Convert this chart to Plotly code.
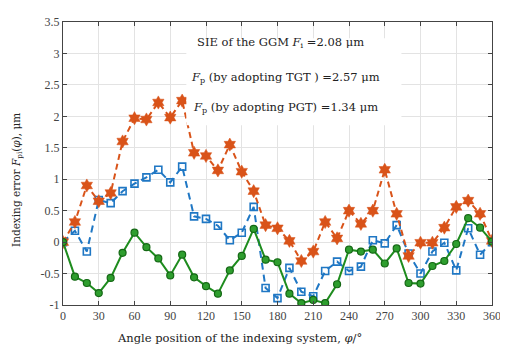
import plotly.graph_objects as go

angles = list(range(0, 361, 10))

tgt_error = [0, 0.32, 0.90, 0.65, 0.78, 1.60, 1.97, 1.95, 2.22, 1.98, 2.25, 1.42, 1.37,
             1.14, 1.55, 1.12, 0.81, 0.27, 0.22, 0.02, -0.30, -0.15, 0.32, 0.06, 0.50,
             0.29, 0.50, 1.15, 0.45, -0.22, -0.01, -0.01, 0.23, 0.56, 0.66, 0.45, 0.02]

ggm_error = [0, 0.18, -0.15, 0.67, 0.62, 0.81, 0.93, 1.03, 1.15, 0.95, 1.20, 0.41, 0.37,
             0.26, 0.03, 0.15, 0.56, -0.73, -0.89, -0.41, -0.79, -0.86, -0.46, -0.31, -0.46,
             -0.39, 0.03, -0.02, 0.27, -0.18, -0.50, -0.15, -0.01, -0.45, 0.22, -0.20, 0]

pgt_error = [0, -0.55, -0.65, -0.81, -0.57, -0.17, 0.15, -0.08, -0.26, -0.53, -0.20, -0.56,
             -0.70, -0.82, -0.45, -0.22, 0.21, -0.28, -0.32, -0.82, -0.97, -0.92, -0.97,
             -0.67, -0.12, -0.15, -0.12, -0.34, -0.10, -0.65, -0.66, -0.38, -0.30, -0.03,
             0.38, 0.23, 0.01]

x_ticks = list(range(0, 361, 30))
y_ticks = [-1, -0.5, 0, 0.5, 1, 1.5, 2, 2.5, 3, 3.5]
y_tick_labels = ["-1", "-0.5", "0", "0.5", "1", "1.5", "2", "2.5", "3", "3.5"]

notes = ["SIE of the GGM <i>F</i><sub>i</sub> =2.08 μm",
         "<i>F</i><sub>p</sub> (by adopting TGT ) =2.57 μm",
         "<i>F</i><sub>p</sub> (by adopting PGT) =1.34 μm"]
note_x = [111, 106, 107]
note_y = [3.18, 2.62, 2.14]

ORANGE = "#D95319"
BLUE = "#1F77C4"
GREEN = "#1E8C1E"
FONT = "Liberation Serif"
TFONT = "DejaVu Serif"

fig = go.Figure()
fig.add_trace(go.Scatter(
    x=angles, y=ggm_error, mode="lines+markers",
    line=dict(color=BLUE, width=2, dash="7px,5px"),
    marker=dict(symbol="square-open", size=7, color=BLUE, line=dict(width=1.6, color=BLUE)),
))
fig.add_trace(go.Scatter(
    x=angles, y=tgt_error, mode="lines+markers",
    line=dict(color=ORANGE, width=2, dash="6px,4px"),
    marker=dict(symbol="hexagram", size=10, color=ORANGE, line=dict(width=0.5, color=ORANGE)),
))
fig.add_trace(go.Scatter(
    x=angles, y=pgt_error, mode="lines+markers",
    line=dict(color=GREEN, width=2),
    marker=dict(symbol="circle", size=7, color="#2E9E2E", line=dict(width=1.2, color="#146814")),
))

# white text box of the in-plot note
fig.add_shape(type="rect", xref="x", yref="y", x0=103.5, x1=284, y0=1.86, y1=3.24,
              fillcolor="white", line=dict(width=0), layer="above")

for txt, xx, yy in zip(notes, note_x, note_y):
    fig.add_annotation(x=xx, y=yy, xref="x", yref="y", text=txt, showarrow=False,
                       xanchor="left", yanchor="middle",
                       font=dict(family=TFONT, size=11.5, color="#222"))

fig.add_annotation(x=0.412, y=-0.085, xref="paper", yref="paper",
                   text="Angle position of the indexing system, <i>φ</i>/°",
                   showarrow=False, xanchor="center", yanchor="top",
                   font=dict(family=TFONT, size=11.5, color="#222"))
fig.add_annotation(x=-0.106, y=0.44, xref="paper", yref="paper",
                   text="Indexing error <i>F</i><sub>pi</sub>(<i>φ</i>), μm",
                   showarrow=False, textangle=-90, xanchor="center", yanchor="middle",
                   font=dict(family=TFONT, size=10.5, color="#222"))

axis_common = dict(showgrid=True, gridcolor="#E3E3E3", gridwidth=1,
                   showline=True, linecolor="#444", linewidth=1, mirror="ticks",
                   ticks="inside", ticklen=4, tickcolor="#444", zeroline=False,
                   tickfont=dict(family=FONT, size=12, color="#444"))

fig.update_xaxes(range=[0, 360], tickvals=x_ticks, ticktext=[str(v) for v in x_ticks],
                 **axis_common)
fig.update_yaxes(range=[-1, 3.5], tickvals=y_ticks, ticktext=y_tick_labels,
                 **axis_common)

fig.update_layout(width=500, height=348, showlegend=False,
                  margin=dict(l=55, r=10, t=7, b=51),
                  plot_bgcolor="white", paper_bgcolor="white")

fig.write_html("out.html")
